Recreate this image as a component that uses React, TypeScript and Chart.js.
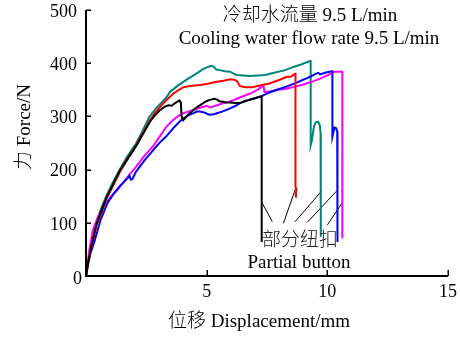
import { useEffect, useRef } from "react";
import { Chart, registerables } from "chart.js";
Chart.register(...registerables);

// ---- Data (displacement mm, force N) ----
const blackX = [0, 0.1, 0.22, 0.43, 0.84, 1.4, 1.75, 2.1, 2.4, 2.65, 2.85, 3.07, 3.25, 3.41, 3.55, 3.69, 3.8, 3.87, 3.93, 3.96, 4.03, 4.2, 4.45, 4.65, 4.86, 5.0, 5.14, 5.3, 5.42, 5.55, 5.62, 5.8, 5.97, 6.2, 6.38, 6.6, 6.8, 7.0, 7.28, 7.28];
const blackY = [0, 28, 55, 97, 147, 198, 222, 246, 270, 290, 302, 312, 318, 321, 320, 325, 328, 330, 326, 300, 293, 302, 312, 319, 325, 329, 331, 333, 332, 328, 328, 326, 326, 325, 325, 329, 331, 334, 338, 64];

const redX = [0, 0.1, 0.22, 0.45, 0.85, 1.42, 1.75, 2.1, 2.4, 2.65, 2.85, 3.07, 3.34, 3.62, 3.85, 4.03, 4.3, 4.72, 5.0, 5.42, 5.7, 5.97, 6.15, 6.24, 6.38, 6.6, 6.9, 7.28, 7.6, 7.97, 8.3, 8.5, 8.66, 8.68, 8.68, 8.72, 8.69, 8.7];
const redY = [0, 27, 54, 97, 145, 197, 222, 247, 272, 293, 306, 318, 331, 343, 350, 355, 357, 359, 361, 365, 367, 370, 369, 367, 357, 355, 355, 359, 362, 368, 374, 375, 380, 380, 168, 162, 155, 147];

const blueX = [0, 0.08, 0.18, 0.35, 0.6, 0.9, 1.15, 1.38, 1.55, 1.73, 1.8, 1.86, 1.92, 2.07, 2.3, 2.49, 2.7, 2.9, 3.1, 3.32, 3.62, 3.85, 4.03, 4.25, 4.45, 4.6, 4.72, 4.85, 4.93, 5.05, 5.14, 5.3, 5.42, 5.7, 5.97, 6.2, 6.38, 6.6, 6.8, 7.0, 7.28, 7.6, 7.97, 8.3, 8.66, 8.95, 9.21, 9.4, 9.56, 9.62, 9.7, 9.9, 10.18, 10.21, 10.21, 10.26, 10.3, 10.36, 10.41, 10.42];
const blueY = [0, 22, 42, 65, 105, 138, 155, 168, 176, 184, 189, 181, 182, 196, 210, 221, 232, 243, 253, 262, 278, 289, 296, 302, 306, 309, 309, 308, 307, 304, 303, 304, 306, 310, 315, 320, 325, 329, 332, 334, 338, 345, 351, 356, 362, 368, 373, 377, 381, 382, 379, 382, 385, 385, 262, 272, 279, 278, 272, 64];

const magentaX = [0, 0.05, 0.14, 0.28, 0.5, 0.83, 1.05, 1.31, 1.7, 2.07, 2.4, 2.76, 3.05, 3.32, 3.55, 3.8, 4.03, 4.45, 4.86, 5.0, 5.14, 5.42, 5.7, 5.97, 6.4, 6.8, 7.1, 7.28, 7.36, 7.39, 7.6, 7.97, 8.3, 8.66, 9.0, 9.35, 9.7, 10.04, 10.2, 10.32, 10.62, 10.62];
const magentaY = [0, 20, 50, 86, 112, 137, 150, 162, 185, 205, 225, 243, 262, 280, 291, 300, 306, 312, 318, 320, 317, 321, 325, 328, 336, 343, 350, 356, 357, 346, 347, 350, 352, 356, 360, 365, 371, 378, 382, 384, 384, 71];

const tealX = [0, 0.1, 0.21, 0.41, 0.62, 0.83, 1.1, 1.38, 1.7, 2.07, 2.35, 2.62, 2.9, 3.32, 3.48, 3.75, 4.03, 4.3, 4.59, 4.85, 5.05, 5.2, 5.3, 5.4, 5.55, 5.75, 5.97, 6.1, 6.24, 6.5, 6.8, 7.1, 7.42, 7.8, 8.25, 8.6, 8.94, 9.28, 9.31, 9.31, 9.36, 9.45, 9.52, 9.62, 9.69, 9.72, 9.73];
const tealY = [0, 28, 55, 99, 126, 149, 175, 199, 224, 249, 273, 299, 315, 335, 346, 356, 365, 373, 381, 389, 393, 395, 393, 388, 387, 385, 384, 381, 378, 377, 376, 377, 378, 382, 387, 393, 398, 404, 404, 246, 255, 282, 289, 290, 283, 268, 74];

// pointer lines from the "Partial button" label to the drops
const pointerX = [[7.28, 7.72], [8.69, 8.18], [9.77, 8.66], [10.39, 9.17], [10.64, 10.0]];
const pointerY = [[139, 102], [165, 99], [160, 102], [160, 101], [139, 96]];

const yTicks = [100, 200, 300, 400, 500];
const xTicks = [5, 10, 15];
const yTickLabels = ["100", "200", "300", "400", "500"];
const xTickLabels = ["5", "10", "15"];

const FONT = '"Liberation Serif", "Times New Roman", "Noto Sans CJK SC", serif';

const pts = (xs: number[], ys: number[]) => xs.map((x, i) => ({ x, y: ys[i] }));

const axisPlugin = {
  id: "customAxes",
  afterDraw(chart: any) {
    const ctx = chart.ctx as CanvasRenderingContext2D;
    const xs = chart.scales.x;
    const ys = chart.scales.y;
    const { left, right, top, bottom } = chart.chartArea;
    ctx.save();
    ctx.strokeStyle = "#000";
    ctx.lineWidth = 2;
    ctx.beginPath();
    ctx.moveTo(left, top);
    ctx.lineTo(left, bottom);
    ctx.lineTo(right, bottom);
    ctx.stroke();
    ctx.lineWidth = 1.5;
    ctx.beginPath();
    yTicks.forEach((v) => {
      const y = Math.round(ys.getPixelForValue(v)) + 0.25;
      ctx.moveTo(left, y);
      ctx.lineTo(left + 5, y);
    });
    xTicks.forEach((v) => {
      const x = Math.round(xs.getPixelForValue(v)) + 0.25;
      ctx.moveTo(x, bottom);
      ctx.lineTo(x, bottom - 6);
    });
    ctx.stroke();

    ctx.fillStyle = "#000";
    ctx.font = `18px ${FONT}`;
    ctx.textAlign = "right";
    ctx.textBaseline = "middle";
    yTicks.forEach((v, i) => {
      ctx.fillText(yTickLabels[i], left - 9, ys.getPixelForValue(v) + 2);
    });
    ctx.fillText("0", left - 4, ys.getPixelForValue(0) + 3);
    ctx.textAlign = "center";
    xTicks.forEach((v, i) => {
      ctx.fillText(xTickLabels[i], xs.getPixelForValue(v), bottom + 16);
    });

    ctx.font = `300 19px ${FONT}`;
    ctx.textBaseline = "alphabetic";
    ctx.fillText("位移 Displacement/mm", 259, 327);
    ctx.fillText("冷却水流量 9.5 L/min", 310, 21);
    ctx.fillText("Cooling water flow rate 9.5 L/min", 309, 44);
    ctx.fillStyle = "#222";
    ctx.fillText("部分纽扣", 300, 246);
    ctx.fillStyle = "#000";
    ctx.fillText("Partial button", 299, 268);

    ctx.translate(25, 127);
    ctx.rotate(-Math.PI / 2);
    ctx.textBaseline = "middle";
    ctx.fillText("力 Force/N", 0, 0);
    ctx.restore();
  },
};

export default function App() {
  const ref = useRef<HTMLCanvasElement | null>(null);
  useEffect(() => {
    if (!ref.current) return;
    const curve = (xs: number[], ys: number[], color: string) => ({
      data: pts(xs, ys),
      borderColor: color,
      backgroundColor: color,
      borderWidth: 2,
      showLine: true,
      pointRadius: 0,
      fill: false,
      tension: 0,
    });
    const pointers = pointerX.map((xs, i) => ({
      data: pts(xs, pointerY[i]),
      borderColor: "#000",
      borderWidth: 1,
      showLine: true,
      pointRadius: 0,
      fill: false,
    }));
    const chart = new Chart(ref.current, {
      type: "scatter",
      data: {
        datasets: [
          curve(blackX, blackY, "#000000"),
          curve(redX, redY, "#ff0000"),
          curve(blueX, blueY, "#0000ff"),
          curve(magentaX, magentaY, "#ff00ff"),
          curve(tealX, tealY, "#00857d"),
          ...pointers,
        ] as any,
      },
      options: {
        animation: false,
        responsive: false,
        layout: { padding: { top: 10, right: 12, left: 0, bottom: 0 } },
        plugins: { legend: { display: false }, tooltip: { enabled: false }, title: { display: false } },
        scales: {
          x: {
            type: "linear",
            min: 0,
            max: 15,
            ticks: { display: false },
            grid: { display: false },
            border: { display: false },
            afterFit: (s: any) => {
              s.height = 62;
            },
          },
          y: {
            type: "linear",
            min: 0,
            max: 500,
            ticks: { display: false },
            grid: { display: false },
            border: { display: false },
            afterFit: (s: any) => {
              s.width = 86;
            },
          },
        },
      } as any,
      plugins: [axisPlugin],
    });
    return () => chart.destroy();
  }, []);
  return (
    <div style={{ position: "absolute", left: 0, top: 0, width: 460, height: 338, background: "#fff" }}>
      <canvas ref={ref} width={460} height={338} />
    </div>
  );
}
